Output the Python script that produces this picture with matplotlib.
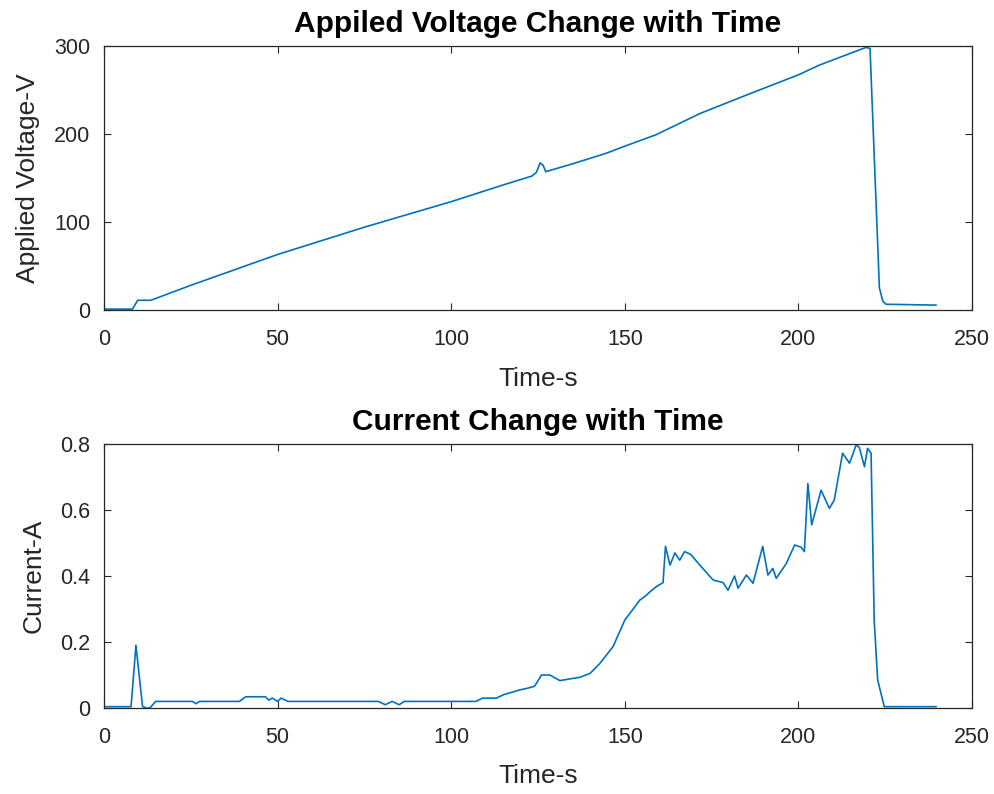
import numpy as np
import matplotlib.pyplot as plt

plt.rcParams['font.family'] = ['Liberation Sans', 'DejaVu Sans']

# applied voltage
t_volt = [0, 8.2, 9.7, 13.5, 25, 50, 75, 100, 115, 123.2, 124.5, 125.6, 126.5,
          127.2, 135, 144.7, 150, 159, 171.6, 185, 200, 206, 212, 219.4, 220.6,
          223.3, 224.3, 225.2, 239.6]
volt = [1, 1, 11, 11, 28, 63, 94, 123, 142, 152, 156, 167, 164,
        157, 166, 178, 186, 199, 223, 244, 267, 278, 287, 298, 297,
        25, 10, 6.5, 5.5]

# current
t_cur = [0, 7.8, 9.2, 11.1, 12.1, 13.2, 14.9, 25.5, 26.5, 27.5, 39, 40.8, 46.5,
         47.5, 48.5, 50, 51, 53, 79, 81, 83, 85, 86.5, 107.1, 109, 113, 115,
         119.8, 122, 124, 126, 128.4, 131.3, 134, 137, 140, 142.8, 146.6, 150, 152.4,
         154.3, 156, 157, 159.1, 161, 161.7, 163, 164.4, 165.8, 167.2, 169, 171.6, 175.4,
         178.3, 179.7, 181.6, 182.6, 185, 186.9, 189.7, 191.2, 192.6, 193.6,
         196.5, 198.9, 200.8, 201.7, 202.7, 203.8, 206.5, 208.9, 210.3, 212.7,
         214.7, 216.6, 217.5, 219, 219.9, 220.9, 221.8, 222.8, 224.7, 239.6]
cur = [0.004, 0.004, 0.19, 0.005, 0.0, 0.0, 0.02, 0.02, 0.013, 0.02, 0.02, 0.034, 0.034,
       0.024, 0.03, 0.02, 0.03, 0.02, 0.02, 0.01, 0.02, 0.01, 0.02, 0.02, 0.03, 0.03, 0.04,
       0.055, 0.06, 0.066, 0.10, 0.10, 0.083, 0.088, 0.093, 0.105, 0.135, 0.186, 0.267, 0.30,
       0.327, 0.34, 0.35, 0.368, 0.38, 0.49, 0.433, 0.47, 0.448, 0.474, 0.465, 0.433, 0.388,
       0.38, 0.357, 0.40, 0.363, 0.403, 0.378, 0.49, 0.403, 0.423, 0.393,
       0.438, 0.494, 0.487, 0.474, 0.68, 0.555, 0.66, 0.605, 0.63, 0.772,
       0.742, 0.797, 0.79, 0.731, 0.787, 0.772, 0.267, 0.085, 0.004, 0.004]

line_color = '#0072BD'
fig = plt.figure(figsize=(9.95, 7.94), dpi=100)
ax1 = fig.add_axes([0.1045, 0.6096, 0.8725, 0.3328])
ax2 = fig.add_axes([0.1045, 0.1083, 0.8725, 0.3325])

for ax in (ax1, ax2):
    ax.tick_params(direction='in', top=True, right=True, length=5, width=0.8,
                   labelsize=15.5, colors='#262626')
    ax.tick_params(axis='x', pad=14)
    ax.tick_params(axis='y', pad=10)
    for s in ax.spines.values():
        s.set_color('#262626')
        s.set_linewidth(0.9)
    ax.set_xlim(0, 250)
    ax.set_xticks([0, 50, 100, 150, 200, 250])

ax1.plot(t_volt, volt, color=line_color, lw=1.2)
ax1.set_ylim(0, 300)
ax1.set_yticks([0, 100, 200, 300])
ax1.set_title('Appiled Voltage Change with Time', fontsize=21.5, fontweight='bold', pad=10)
ax1.set_xlabel('Time-s', fontsize=19, color='#262626', labelpad=12)
ax1.set_ylabel('Applied Voltage-V', fontsize=19, color='#262626', labelpad=10)

ax2.plot(t_cur, cur, color=line_color, lw=1.2)
ax2.set_ylim(0, 0.8)
ax2.set_yticks([0, 0.2, 0.4, 0.6, 0.8])
ax2.set_yticklabels(['0', '0.2', '0.4', '0.6', '0.8'])
ax2.set_title('Current Change with Time', fontsize=21.5, fontweight='bold', pad=10)
ax2.set_xlabel('Time-s', fontsize=19, color='#262626', labelpad=11)
ax2.set_ylabel('Current-A', fontsize=19, color='#262626', labelpad=10)

fig.savefig('out.png', dpi=100)
